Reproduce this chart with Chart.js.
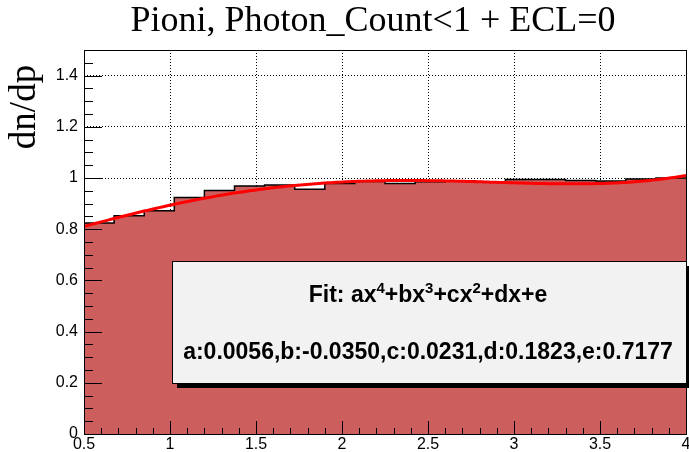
<!DOCTYPE html>
<html>
<head>
<meta charset="utf-8">
<script src="https://cdn.jsdelivr.net/npm/chart.js@4.4.0/dist/chart.umd.min.js"></script>
<style>
  html, body { margin: 0; padding: 0; background: #fff; }
</style>
</head>
<body>
<canvas id="chart" width="689" height="452"></canvas>
<script>
// Histogram dn/dp for pions, 20 bins between 0.5 and 4
const plotTitle = "Pioni, Photon_Count<1 + ECL=0";
const yTitle = "dn/dp";
const xRange = [0.5, 4];
const yRange = [0, 1.5];
const binContent = [0.824, 0.853, 0.872, 0.924, 0.951, 0.969, 0.973, 0.956, 0.979, 0.986,
                    0.979, 0.985, 0.989, 0.985, 0.994, 0.994, 0.990, 0.988, 0.996, 1.000];
// polynomial fit a..e (ax^4+bx^3+cx^2+dx+e)
const fitParams = [0.0056, -0.0350, 0.0231, 0.1823, 0.7177];
const fitLabel = "a:0.0056,b:-0.0350,c:0.0231,d:0.1823,e:0.7177";
const xTicks = [0.5, 1, 1.5, 2, 2.5, 3, 3.5, 4];
const yTicks = [0, 0.2, 0.4, 0.6, 0.8, 1, 1.2, 1.4];

const binWidth = (xRange[1] - xRange[0]) / binContent.length;
const histPoints = binContent.map((v, i) => ({ x: xRange[0] + i * binWidth, y: v }));
histPoints.push({ x: xRange[1], y: binContent[binContent.length - 1] });

// evaluate the fitted polynomial like a TF1 with npx samples
const npx = 200;
const fitPoints = [];
for (let i = 0; i <= npx; i++) {
  const x = xRange[0] + (xRange[1] - xRange[0]) * i / npx;
  const [a, b, c, d, e] = fitParams;
  fitPoints.push({ x: x, y: (((a * x + b) * x + c) * x + d) * x + e });
}

const SANS = '"Liberation Sans", Arial, sans-serif';
const SERIF = '"Liberation Serif", "Times New Roman", serif';

// ticks inside the frame, frame itself
const framePlugin = {
  id: 'frame',
  afterDatasetsDraw(chart) {
    const { ctx, chartArea: ca, scales } = chart;
    const xs = scales.x, ys = scales.y;
    ctx.save();
    ctx.strokeStyle = '#000';
    ctx.lineWidth = 1;
    ctx.beginPath();
    for (let i = 0; i <= 30; i++) {
      const v = i * 0.05;
      const y = Math.round(ys.getPixelForValue(v)) + 0.5;
      const len = i % 4 === 0 ? 18 : 9;
      ctx.moveTo(ca.left, y);
      ctx.lineTo(ca.left + len, y);
    }
    for (let i = 0; i <= 35; i++) {
      const v = xRange[0] + i * 0.1;
      const x = Math.round(xs.getPixelForValue(v)) + 0.5;
      const len = i % 5 === 0 ? 13 : 6;
      ctx.moveTo(x, ca.bottom);
      ctx.lineTo(x, ca.bottom - len);
    }
    ctx.stroke();
    ctx.strokeRect(Math.round(ca.left) + 0.5, Math.round(ca.top) + 0.5,
                   Math.round(ca.right - ca.left), Math.round(ca.bottom - ca.top));
    ctx.restore();
  },
  afterDraw(chart) {
    const { ctx } = chart;
    ctx.save();
    // title
    ctx.fillStyle = '#000';
    ctx.font = '36px ' + SERIF;
    ctx.textAlign = 'center';
    ctx.textBaseline = 'middle';
    ctx.fillText(plotTitle, 373, 22);
    // y axis title
    ctx.save();
    ctx.translate(25, 107);
    ctx.rotate(-Math.PI / 2);
    ctx.font = '37px ' + SERIF;
    ctx.fillText(yTitle, 0, 0);
    ctx.restore();

    // fit legend box with shadow
    const bx = 172, by = 261, bw = 514, bh = 122;
    ctx.fillStyle = '#000';
    ctx.fillRect(bx + 5, by + 5, bw, bh);
    ctx.fillStyle = '#f2f2f2';
    ctx.fillRect(bx, by, bw, bh);
    ctx.strokeStyle = '#000';
    ctx.lineWidth = 1;
    ctx.strokeRect(bx + 0.5, by + 0.5, bw, bh);

    // first line with superscripts
    const parts = [['Fit: ax', false], ['4', true], ['+bx', false], ['3', true],
                   ['+cx', false], ['2', true], ['+dx+e', false]];
    const mainFont = 'bold 23px ' + SANS, supFont = 'bold 15px ' + SANS;
    ctx.textAlign = 'left';
    ctx.textBaseline = 'alphabetic';
    let total = 0;
    parts.forEach(([t, sup]) => { ctx.font = sup ? supFont : mainFont; total += ctx.measureText(t).width; });
    let cx = 428 - total / 2;
    ctx.fillStyle = '#000';
    parts.forEach(([t, sup]) => {
      ctx.font = sup ? supFont : mainFont;
      ctx.fillText(t, cx, sup ? 293 : 302);
      cx += ctx.measureText(t).width;
    });
    // second line
    ctx.font = 'bold 23px ' + SANS;
    ctx.textAlign = 'center';
    ctx.fillText(fitLabel, 428, 359);
    ctx.restore();
  }
};

new Chart(document.getElementById('chart'), {
  type: 'line',
  data: {
    datasets: [
      {
        label: 'fit',
        data: fitPoints,
        borderColor: '#ff0000',
        borderWidth: 3,
        pointRadius: 0,
        fill: false,
        tension: 0,
        order: 0
      },
      {
        label: 'hist',
        data: histPoints,
        stepped: 'before',
        borderColor: '#000',
        borderWidth: 1.5,
        backgroundColor: '#cd5e5e',
        fill: 'origin',
        pointRadius: 0,
        order: 1
      }
    ]
  },
  options: {
    responsive: false,
    animation: false,
    devicePixelRatio: 1,
    layout: { padding: { top: 50, right: 3, left: 0, bottom: 0 } },
    plugins: { legend: { display: false }, tooltip: { enabled: false } },
    scales: {
      x: {
        type: 'linear',
        min: xRange[0],
        max: xRange[1],
        afterBuildTicks: s => { s.ticks = xTicks.map(v => ({ value: v })); },
        afterFit: s => { s.height = 18; s.paddingLeft = 0; s.paddingRight = 0; },
        grid: { color: '#000', lineWidth: 1, drawTicks: false },
        border: { display: false, dash: [1, 2] },
        ticks: {
          color: '#000',
          font: { family: SANS, size: 16 },
          padding: 1,
          maxRotation: 0,
          autoSkip: false,
          callback: v => String(v)
        }
      },
      y: {
        min: yRange[0],
        max: yRange[1],
        afterBuildTicks: s => { s.ticks = yTicks.map(v => ({ value: v })); },
        afterFit: s => { s.width = 84; s.paddingTop = 0; s.paddingBottom = 0; },
        grid: { color: '#000', lineWidth: 1, drawTicks: false },
        border: { display: false, dash: [1, 2] },
        ticks: {
          color: '#000',
          font: { family: SANS, size: 16 },
          padding: 6,
          autoSkip: false,
          callback: v => String(Math.round(v * 10) / 10)
        }
      }
    }
  },
  plugins: [framePlugin]
});
</script>
</body>
</html>
